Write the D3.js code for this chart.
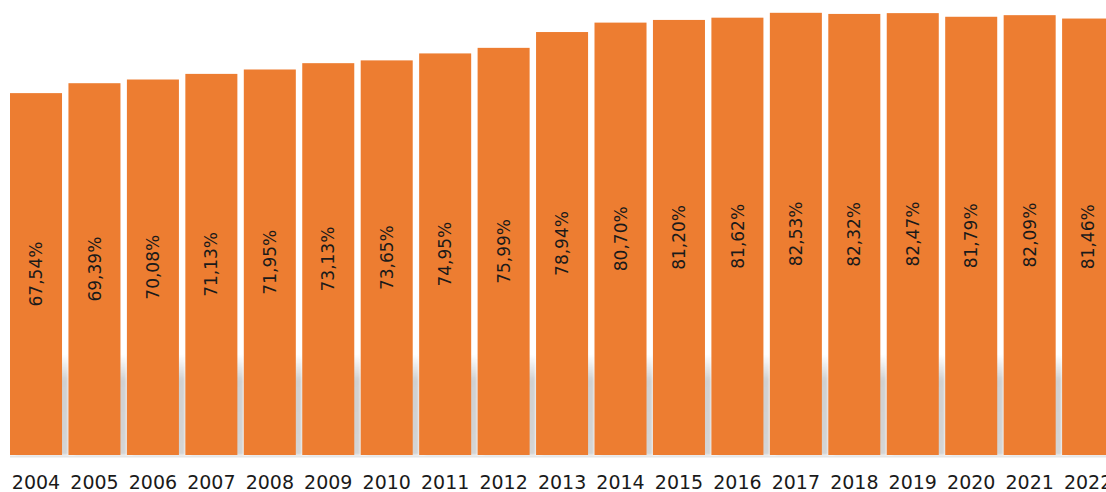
<!DOCTYPE html>
<html>
<head>
<meta charset="utf-8">
<script src="https://cdn.jsdelivr.net/npm/d3@7"></script>
<style>
  html, body { margin: 0; padding: 0; background: #fff; }
  svg { display: block; }
</style>
</head>
<body>
<svg width="1106" height="492"></svg>
<script>
const years = ['2004', '2005', '2006', '2007', '2008', '2009', '2010', '2011', '2012', '2013',
  '2014', '2015', '2016', '2017', '2018', '2019', '2020', '2021', '2022'];
const values = [67.54, 69.39, 70.08, 71.13, 71.95, 73.13, 73.65, 74.95, 75.99, 78.94,
  80.70, 81.20, 81.62, 82.53, 82.32, 82.47, 81.79, 82.09, 81.46];

const svg = d3.select('svg');
const width = +svg.attr('width');
const height = +svg.attr('height');

const baseY = 455;
const step = 58.45;

const x = d3.scaleBand()
    .domain(years)
    .range([10, 10 + years.length * step - step * 0.11])
    .paddingInner(0.11)
    .paddingOuter(0);

const y = d3.scaleLinear()
    .domain([0, 84.92])
    .range([baseY, 0]);

const fmt = v => v.toFixed(2).replace('.', ',') + '%';

const defs = svg.append('defs');
const grad = defs.append('linearGradient')
    .attr('id', 'shade')
    .attr('x1', 0).attr('y1', 0).attr('x2', 0).attr('y2', 1);
grad.append('stop').attr('offset', '0%').attr('stop-color', '#d0d0d0').attr('stop-opacity', 0);
grad.append('stop').attr('offset', '25%').attr('stop-color', '#d0d0d0').attr('stop-opacity', 1);
grad.append('stop').attr('offset', '100%').attr('stop-color', '#d4d4d4').attr('stop-opacity', 1);
defs.append('filter').attr('id', 'blur')
    .attr('x', '-20%').attr('width', '140%')
    .append('feGaussianBlur').attr('stdDeviation', 1.2);

// soft shadow on the right of each bar
svg.append('g')
  .selectAll('rect')
  .data(years)
  .join('rect')
    .attr('x', d => x(d) + 6)
    .attr('y', 355)
    .attr('width', x.bandwidth())
    .attr('height', baseY - 355)
    .attr('fill', 'url(#shade)')
    .attr('filter', 'url(#blur)');

// faint floor line
svg.append('line')
    .attr('x1', 10).attr('x2', width)
    .attr('y1', baseY + 1.5).attr('y2', baseY + 1.5)
    .attr('stroke', '#e6e6e6')
    .attr('stroke-width', 2);

svg.append('g')
  .selectAll('rect')
  .data(values)
  .join('rect')
    .attr('x', (d, i) => x(years[i]))
    .attr('y', d => y(d))
    .attr('width', x.bandwidth())
    .attr('height', d => baseY - y(d))
    .attr('fill', '#ED7D31');

svg.append('g')
  .selectAll('text')
  .data(values)
  .join('text')
    .attr('transform', (d, i) => {
      const cx = x(years[i]) + x.bandwidth() / 2;
      const cy = (y(d) + baseY) / 2;
      return `translate(${cx},${cy}) rotate(-90)`;
    })
    .attr('text-anchor', 'middle')
    .attr('dy', '0.36em')
    .attr('font-family', 'DejaVu Sans, sans-serif')
    .attr('font-size', 17)
    .attr('fill', '#1a1a1a')
    .text(fmt);

const xAxis = svg.append('g')
    .attr('transform', `translate(0, ${baseY})`)
    .call(d3.axisBottom(x).tickSize(0).tickPadding(34));
xAxis.select('.domain').remove();
xAxis.selectAll('text')
    .attr('font-family', 'DejaVu Sans, sans-serif')
    .attr('font-size', 19)
    .attr('fill', '#1a1a1a')
    .attr('dy', 0);
</script>
</body>
</html>
